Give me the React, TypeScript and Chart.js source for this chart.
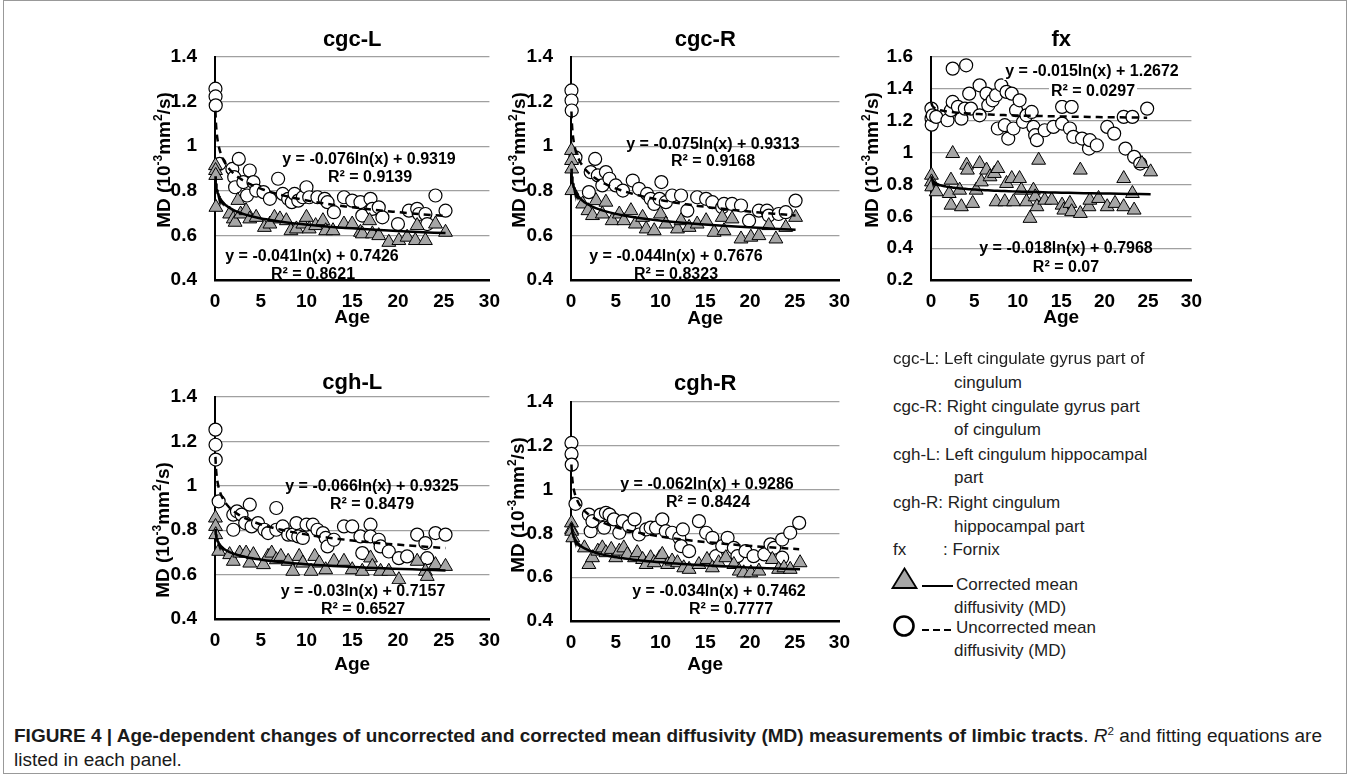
import React, { useEffect, useLayoutEffect, useRef } from "react";
import { Chart, registerables } from "chart.js";
Chart.register(...registerables);

const FONT = '"Liberation Sans", Arial, Helvetica, sans-serif';

type Pt = [number, number];

// ---------------- data (age in years, MD in 10^-3 mm^2/s) ----------------
const cgcLUncorrected: Pt[] = [[0.05,1.258],[0.06,1.223],[0.08,1.183],[0.5,0.921],[1.9,0.898],[2.1,0.861],[2.2,0.816],[2.6,0.943],[3.1,0.839],[3.5,0.779],[3.8,0.891],[4.2,0.839],[4.5,0.801],[5.3,0.794],[6.0,0.764],[6.9,0.854],[7.4,0.786],[8.0,0.764],[8.4,0.749],[8.7,0.786],[9.1,0.756],[9.6,0.771],[10.0,0.816],[10.3,0.771],[11.2,0.771],[12.0,0.764],[12.3,0.749],[13.0,0.704],[14.1,0.771],[15.0,0.756],[15.9,0.749],[16.1,0.689],[17.0,0.764],[17.2,0.719],[17.9,0.726],[18.3,0.681],[20.0,0.651],[21.2,0.711],[22.1,0.719],[22.3,0.696],[23.0,0.696],[23.2,0.651],[24.1,0.779],[25.2,0.711]];
const cgcLCorrected: Pt[] = [[0.05,0.913],[0.06,0.891],[0.08,0.869],[0.1,0.726],[1.6,0.696],[2.0,0.674],[2.2,0.659],[2.5,0.757],[2.8,0.696],[3.4,0.711],[3.8,0.674],[4.5,0.681],[5.4,0.636],[6.0,0.651],[6.5,0.681],[7.1,0.674],[7.8,0.666],[8.3,0.621],[8.9,0.629],[9.6,0.651],[10.0,0.681],[10.3,0.629],[11.0,0.644],[11.8,0.666],[12.1,0.621],[12.9,0.621],[14.1,0.651],[15.0,0.651],[15.9,0.614],[16.1,0.607],[16.9,0.666],[17.2,0.607],[17.9,0.599],[19.0,0.569],[20.1,0.577],[21.0,0.592],[21.9,0.577],[22.1,0.644],[23.0,0.577],[24.1,0.651],[25.2,0.614]];
const cgcLFitUncorrected = [-0.076, 0.9319];
const cgcLFitCorrected = [-0.041, 0.7426];

const cgcRUncorrected: Pt[] = [[0.05,1.250],[0.06,1.205],[0.08,1.160],[0.5,0.950],[2.0,0.794],[2.2,0.884],[2.7,0.943],[3.0,0.869],[3.5,0.824],[3.9,0.884],[4.3,0.854],[5.0,0.824],[5.8,0.801],[6.9,0.846],[7.6,0.809],[8.5,0.786],[8.9,0.764],[9.3,0.741],[9.9,0.764],[10.1,0.839],[10.6,0.749],[11.3,0.779],[12.3,0.779],[13.0,0.711],[14.1,0.771],[15.1,0.764],[15.8,0.749],[16.9,0.726],[17.1,0.741],[18.0,0.741],[19.0,0.734],[19.9,0.666],[21.0,0.711],[21.9,0.711],[22.1,0.689],[23.2,0.696],[24.0,0.704],[25.1,0.756]];
const cgcRCorrected: Pt[] = [[0.05,0.981],[0.06,0.936],[0.08,0.898],[0.1,0.801],[1.3,0.741],[1.9,0.711],[2.4,0.689],[2.8,0.756],[3.5,0.696],[3.9,0.749],[4.6,0.666],[5.4,0.696],[5.9,0.666],[6.7,0.711],[7.2,0.651],[8.0,0.681],[8.4,0.629],[9.3,0.621],[10.0,0.696],[10.6,0.651],[11.9,0.629],[12.3,0.666],[13.2,0.636],[14.1,0.651],[15.1,0.666],[16.0,0.614],[16.9,0.681],[17.1,0.621],[18.0,0.674],[19.0,0.584],[20.1,0.592],[21.0,0.599],[22.1,0.644],[22.9,0.584],[24.0,0.636],[25.1,0.681]];
const cgcRFitUncorrected = [-0.075, 0.9313];
const cgcRFitCorrected = [-0.044, 0.7676];

const fxUncorrected: Pt[] = [[0.05,1.276],[0.06,1.213],[0.08,1.175],[0.2,1.234],[0.6,1.224],[1.9,1.203],[2.3,1.266],[2.5,1.318],[2.5,1.527],[3.1,1.287],[3.5,1.213],[3.9,1.276],[4.05,1.548],[4.4,1.370],[4.6,1.276],[5.6,1.422],[5.6,1.234],[6.4,1.370],[6.6,1.297],[7.1,1.328],[7.5,1.360],[7.7,1.151],[8.1,1.422],[8.5,1.172],[8.7,1.381],[8.9,1.088],[9.3,1.370],[9.5,1.151],[9.8,1.266],[10.2,1.328],[10.6,1.193],[11.0,1.234],[11.6,1.255],[11.8,1.161],[12.0,1.109],[12.2,1.078],[13.1,1.140],[14.1,1.161],[15.1,1.182],[15.1,1.287],[16.0,1.151],[16.2,1.287],[16.4,1.099],[17.4,1.088],[18.2,1.025],[18.3,1.078],[19.1,1.046],[20.3,1.161],[21.1,1.119],[22.2,1.224],[22.4,1.025],[23.2,1.224],[23.4,0.973],[24.1,0.931],[24.9,1.276]];
const fxCorrected: Pt[] = [[0.05,0.858],[0.06,0.816],[0.08,0.785],[0.6,0.754],[2.1,0.743],[2.3,0.827],[2.3,0.670],[2.5,0.994],[3.3,0.764],[3.5,0.660],[4.1,0.921],[4.2,0.890],[4.8,0.681],[5.2,0.764],[5.6,0.931],[5.8,0.816],[6.4,0.890],[6.8,0.848],[7.3,0.869],[7.5,0.691],[7.7,0.900],[8.5,0.691],[8.7,0.806],[9.3,0.837],[9.5,0.691],[10.2,0.837],[10.4,0.764],[11.0,0.691],[11.4,0.587],[11.8,0.764],[12.0,0.722],[12.2,0.660],[12.4,0.952],[13.1,0.701],[13.9,0.701],[15.1,0.670],[15.3,0.639],[16.0,0.681],[16.2,0.629],[17.2,0.890],[17.2,0.618],[18.2,0.660],[18.3,0.701],[19.3,0.712],[20.3,0.660],[21.2,0.681],[22.2,0.837],[22.2,0.660],[23.2,0.743],[23.4,0.639],[24.3,0.931],[25.3,0.879]];
const fxFitUncorrected = [-0.015, 1.2672];
const fxFitCorrected = [-0.018, 0.7968];

const cghLUncorrected: Pt[] = [[0.05,1.253],[0.06,1.185],[0.08,1.118],[0.4,0.930],[2.0,0.870],[2.0,0.802],[2.4,0.885],[2.9,0.870],[3.3,0.832],[3.8,0.915],[4.0,0.817],[4.7,0.832],[5.4,0.802],[5.8,0.787],[6.7,0.900],[6.7,0.802],[7.4,0.817],[8.0,0.780],[8.5,0.780],[8.9,0.832],[9.1,0.772],[9.6,0.765],[10.0,0.825],[10.7,0.825],[11.2,0.802],[11.8,0.787],[12.1,0.765],[12.3,0.727],[13.0,0.757],[14.1,0.817],[15.0,0.817],[15.9,0.772],[16.1,0.697],[17.0,0.825],[17.0,0.772],[17.9,0.757],[18.1,0.727],[19.0,0.704],[20.1,0.674],[21.0,0.682],[22.1,0.780],[23.0,0.742],[23.2,0.674],[24.1,0.787],[25.2,0.780]];
const cghLCorrected: Pt[] = [[0.05,0.855],[0.06,0.817],[0.08,0.780],[0.4,0.705],[1.6,0.690],[2.0,0.660],[2.7,0.697],[3.4,0.697],[3.8,0.652],[4.2,0.690],[5.3,0.645],[5.8,0.682],[6.2,0.697],[6.7,0.667],[7.2,0.682],[8.0,0.660],[8.5,0.615],[9.2,0.682],[9.6,0.652],[10.5,0.615],[10.9,0.682],[11.4,0.652],[12.1,0.622],[13.0,0.660],[14.1,0.660],[15.0,0.622],[16.1,0.615],[17.0,0.675],[17.2,0.637],[18.1,0.615],[19.0,0.615],[20.1,0.577],[22.1,0.660],[23.0,0.615],[23.2,0.592],[24.1,0.645],[25.2,0.637]];
const cghLFitUncorrected = [-0.066, 0.9325];
const cghLFitCorrected = [-0.03, 0.7157];

const cghRUncorrected: Pt[] = [[0.05,1.213],[0.06,1.163],[0.08,1.114],[0.5,0.935],[2.0,0.886],[2.2,0.810],[2.4,0.856],[3.3,0.886],[3.7,0.826],[3.9,0.894],[4.3,0.886],[4.8,0.864],[5.4,0.803],[5.8,0.856],[6.5,0.833],[7.1,0.864],[7.6,0.795],[8.4,0.818],[8.9,0.826],[9.5,0.826],[10.2,0.864],[10.6,0.810],[11.3,0.803],[12.1,0.780],[12.3,0.742],[12.5,0.818],[13.2,0.719],[14.3,0.856],[15.1,0.803],[15.8,0.780],[16.2,0.696],[16.9,0.742],[17.5,0.780],[18.2,0.734],[18.6,0.696],[19.5,0.719],[20.4,0.696],[21.6,0.704],[22.3,0.750],[22.7,0.734],[23.6,0.772],[23.6,0.689],[24.5,0.803],[25.5,0.848]];
const cghRCorrected: Pt[] = [[0.05,0.848],[0.06,0.818],[0.08,0.810],[0.2,0.780],[1.5,0.734],[2.0,0.658],[2.4,0.689],[3.0,0.719],[3.5,0.734],[3.9,0.712],[4.5,0.727],[5.0,0.689],[5.4,0.719],[5.9,0.734],[6.3,0.704],[7.1,0.689],[7.4,0.712],[8.0,0.681],[8.4,0.658],[8.9,0.689],[9.3,0.666],[9.9,0.689],[10.2,0.704],[10.8,0.658],[11.3,0.674],[11.9,0.666],[12.6,0.643],[13.2,0.636],[14.3,0.658],[15.2,0.681],[15.8,0.643],[16.5,0.666],[17.3,0.689],[18.2,0.658],[18.8,0.628],[19.3,0.620],[20.1,0.620],[21.0,0.628],[22.5,0.681],[23.2,0.636],[23.8,0.643],[24.5,0.636],[25.6,0.666]];
const cghRFitUncorrected = [-0.062, 0.9286];
const cghRFitCorrected = [-0.034, 0.7462];

const ageTicks = [0, 30, 5]; // min, max, step
const mdTicksStandard = [0.4, 1.4, 0.2];
const mdTicksFornix = [0.2, 1.6, 0.2];

const legendLines = [
  "cgc-L: Left cingulate gyrus part of", "cingulum",
  "cgc-R: Right cingulate gyrus part", "of cingulum",
  "cgh-L: Left cingulum hippocampal", "part",
  "cgh-R: Right cingulum", "hippocampal part",
];

// ---------------- panel layout ----------------
type Label = { text: string; x: number; y: number; bg: boolean };
type PanelCfg = {
  title: string;
  canvas: [number, number, number, number];
  area: [number, number, number, number];
  yTicks: number[];
  uncorrected: Pt[];
  corrected: Pt[];
  fitU: number[];
  fitC: number[];
  labels: Label[];
  titleY: number;
  ageY: number;
  yTitle: [number, number];
};

const panels: PanelCfg[] = [
  {
    title: "cgc-L", canvas: [140, 10, 370, 330], area: [215, 57, 493, 280], yTicks: mdTicksStandard,
    uncorrected: cgcLUncorrected, corrected: cgcLCorrected, fitU: cgcLFitUncorrected, fitC: cgcLFitCorrected,
    labels: [
      { text: "y = -0.076ln(x) + 0.9319", x: 369, y: 160, bg: false },
      { text: "R² = 0.9139", x: 370, y: 178, bg: false },
      { text: "y = -0.041ln(x) + 0.7426", x: 312, y: 257, bg: true },
      { text: "R² = 0.8621", x: 313, y: 275, bg: true },
    ],
    titleY: 40, ageY: 318, yTitle: [163, 160],
  },
  {
    title: "cgc-R", canvas: [495, 10, 365, 330], area: [571, 57, 840, 280], yTicks: mdTicksStandard,
    uncorrected: cgcRUncorrected, corrected: cgcRCorrected, fitU: cgcRFitUncorrected, fitC: cgcRFitCorrected,
    labels: [
      { text: "y = -0.075ln(x) + 0.9313", x: 713, y: 145, bg: false },
      { text: "R² = 0.9168", x: 713, y: 162, bg: false },
      { text: "y = -0.044ln(x) + 0.7676", x: 676, y: 257, bg: true },
      { text: "R² = 0.8323", x: 676, y: 275, bg: true },
    ],
    titleY: 40, ageY: 319, yTitle: [518, 160],
  },
  {
    title: "fx", canvas: [850, 10, 362, 330], area: [931, 57, 1192, 280], yTicks: mdTicksFornix,
    uncorrected: fxUncorrected, corrected: fxCorrected, fitU: fxFitUncorrected, fitC: fxFitCorrected,
    labels: [
      { text: "y = -0.015ln(x) + 1.2672", x: 1092, y: 72, bg: true },
      { text: "R² = 0.0297", x: 1093, y: 92, bg: true },
      { text: "y = -0.018ln(x) + 0.7968", x: 1066, y: 249, bg: false },
      { text: "R² = 0.07", x: 1066, y: 268, bg: false },
    ],
    titleY: 40, ageY: 318, yTitle: [871, 160],
  },
  {
    title: "cgh-L", canvas: [140, 355, 370, 330], area: [215, 397, 493, 619], yTicks: mdTicksStandard,
    uncorrected: cghLUncorrected, corrected: cghLCorrected, fitU: cghLFitUncorrected, fitC: cghLFitCorrected,
    labels: [
      { text: "y = -0.066ln(x) + 0.9325", x: 372, y: 487, bg: false },
      { text: "R² = 0.8479", x: 372, y: 505, bg: false },
      { text: "y = -0.03ln(x) + 0.7157", x: 363, y: 592, bg: true },
      { text: "R² = 0.6527", x: 363, y: 610, bg: true },
    ],
    titleY: 383, ageY: 665, yTitle: [162, 530],
  },
  {
    title: "cgh-R", canvas: [495, 355, 365, 330], area: [571, 402, 840, 621], yTicks: mdTicksStandard,
    uncorrected: cghRUncorrected, corrected: cghRCorrected, fitU: cghRFitUncorrected, fitC: cghRFitCorrected,
    labels: [
      { text: "y = -0.062ln(x) + 0.9286", x: 707, y: 485, bg: false },
      { text: "R² = 0.8424", x: 708, y: 503, bg: false },
      { text: "y = -0.034ln(x) + 0.7462", x: 719, y: 592, bg: true },
      { text: "R² = 0.7777", x: 731, y: 610, bg: true },
    ],
    titleY: 384, ageY: 665, yTitle: [517, 505],
  },
];

function trend(fit: number[], pts: Pt[]) {
  const xs = pts.map((p) => p[0]);
  const lo = Math.min(...xs);
  const hi = Math.max(...xs);
  const out: { x: number; y: number }[] = [];
  const n = 120;
  for (let i = 0; i <= n; i++) {
    const x = lo * Math.pow(hi / lo, i / n);
    out.push({ x, y: fit[0] * Math.log(x) + fit[1] });
  }
  return out;
}

function Panel({ cfg }: { cfg: PanelCfg }) {
  const ref = useRef<HTMLCanvasElement>(null);
  const [cx, cy, cw, ch] = cfg.canvas;
  useEffect(() => {
    const [L, T, R, B] = cfg.area;
    const decor = {
      id: "decor",
      afterDatasetsDraw(chart: any) {
        const ctx = chart.ctx as CanvasRenderingContext2D;
        const a = chart.chartArea;
        ctx.save();
        ctx.font = `bold 16px ${FONT}`;
        ctx.textAlign = "center";
        ctx.textBaseline = "middle";
        for (const lb of cfg.labels) {
          const x = lb.x - cx;
          const y = lb.y - cy;
          if (lb.bg) {
            const w = ctx.measureText(lb.text).width;
            ctx.save();
            ctx.beginPath();
            ctx.rect(a.left + 2, a.top, a.right - a.left, a.bottom - a.top - 2);
            ctx.clip();
            ctx.fillStyle = "#fff";
            ctx.fillRect(x - w / 2 - 2, y - 8, w + 4, 16);
            ctx.restore();
          }
          ctx.fillStyle = "#000";
          ctx.fillText(lb.text, x, y);
        }
        ctx.restore();
      },
      afterDraw(chart: any) {
        const ctx = chart.ctx as CanvasRenderingContext2D;
        const a = chart.chartArea;
        const mid = (a.left + a.right) / 2;
        ctx.save();
        ctx.fillStyle = "#000";
        ctx.textAlign = "center";
        ctx.textBaseline = "middle";
        ctx.font = `bold 22px ${FONT}`;
        ctx.fillText(cfg.title, mid, cfg.titleY - cy);
        ctx.font = `bold 19px ${FONT}`;
        ctx.fillText("Age", mid, cfg.ageY - cy);
        // rotated y-axis title with superscripts
        const segs: [string, boolean][] = [["MD (10", false], ["-3", true], ["mm", false], ["2", true], ["/s)", false]];
        const mainF = `bold 19px ${FONT}`;
        const supF = `bold 12px ${FONT}`;
        let total = 0;
        for (const [s, sup] of segs) {
          ctx.font = sup ? supF : mainF;
          total += ctx.measureText(s).width;
        }
        ctx.translate(cfg.yTitle[0] - cx, cfg.yTitle[1] - cy);
        ctx.rotate(-Math.PI / 2);
        ctx.textAlign = "left";
        ctx.textBaseline = "alphabetic";
        let px = -total / 2;
        for (const [s, sup] of segs) {
          ctx.font = sup ? supF : mainF;
          ctx.fillText(s, px, sup ? -1 : 7);
          px += ctx.measureText(s).width;
        }
        ctx.restore();
      },
    };
    const tickFont = { family: FONT, size: 19, weight: "bold" as const };
    const chart = new Chart(ref.current!, {
      type: "scatter",
      data: {
        datasets: [
          {
            data: trend(cfg.fitU, cfg.uncorrected), showLine: true, borderColor: "#000", borderWidth: 2.5,
            borderDash: [7, 5], pointRadius: 0, fill: false, clip: false as any,
          },
          {
            data: trend(cfg.fitC, cfg.corrected), showLine: true, borderColor: "#000", borderWidth: 2.5,
            pointRadius: 0, fill: false, clip: false as any,
          },
          {
            data: cfg.corrected.map(([x, y]) => ({ x, y })), pointStyle: "triangle", pointRadius: 8,
            backgroundColor: "#a6a6a6", borderColor: "#000", borderWidth: 1, clip: false as any,
          },
          {
            data: cfg.uncorrected.map(([x, y]) => ({ x, y })), pointStyle: "circle", pointRadius: 6.5,
            backgroundColor: "#fff", borderColor: "#000", borderWidth: 1.2, clip: false as any,
          },
        ],
      },
      options: {
        responsive: false,
        animation: false,
        events: [],
        layout: { padding: { left: 0, top: T - cy, right: cx + cw - R, bottom: 0 } },
        plugins: { legend: { display: false }, tooltip: { enabled: false }, title: { display: false } },
        scales: {
          x: {
            type: "linear", min: ageTicks[0], max: ageTicks[1],
            afterFit: (s: any) => { s.height = cy + ch - B; },
            ticks: { stepSize: ageTicks[2], font: tickFont, color: "#000", padding: 10, maxRotation: 0, autoSkip: false },
            grid: { display: false, drawTicks: false },
            border: { display: true, color: "#000", width: 2.5 },
          },
          y: {
            type: "linear", min: cfg.yTicks[0], max: cfg.yTicks[1],
            afterFit: (s: any) => { s.width = L - cx; },
            ticks: {
              stepSize: cfg.yTicks[2], font: tickFont, color: "#000", padding: 18, autoSkip: false,
              callback: (v: any) => String(Math.round(Number(v) * 10) / 10),
            },
            grid: { color: "#a0a0a0", lineWidth: 1.2, drawTicks: false },
            border: { display: true, color: "#000", width: 2 },
          },
        },
      },
      plugins: [decor],
    } as any);
    return () => chart.destroy();
  }, []);
  return (
    <canvas ref={ref} width={cw} height={ch}
      style={{ position: "absolute", left: cx, top: cy, width: cw, height: ch }} />
  );
}

function Caption() {
  const outer = useRef<HTMLDivElement>(null);
  const line1 = useRef<HTMLSpanElement>(null);
  useLayoutEffect(() => {
    const o = outer.current;
    const l = line1.current;
    if (!o || !l) return;
    const w = l.getBoundingClientRect().width;
    if (w > 0) o.style.transform = `scaleX(${1308 / w})`;
  }, []);
  return (
    <div ref={outer} style={{ position: "absolute", left: 14, top: 724, fontFamily: FONT, fontSize: 18, color: "#1a1a1a", lineHeight: "24px", transformOrigin: "0 0", whiteSpace: "nowrap" }}>
      <div>
        <span ref={line1}>
          <span style={{ fontWeight: "bold" }}>FIGURE 4 | Age-dependent changes of uncorrected and corrected mean diffusivity (MD) measurements of limbic tracts</span>
          . <i>R</i><sup style={{ fontSize: 11, lineHeight: 0 }}>2</sup> and fitting equations are
        </span>
      </div>
      <div>listed in each panel.</div>
    </div>
  );
}

function Legend() {
  const txt = (s: string, x: number, y: number, key: string) => (
    <div key={key} style={{ position: "absolute", left: x, top: y - 12, height: 24, lineHeight: "24px", whiteSpace: "nowrap" }}>{s}</div>
  );
  const rows: [number, number][] = [[893, 359], [954, 383], [893, 407], [954, 430], [893, 455], [954, 478], [893, 503], [954, 527]];
  return (
    <div style={{ position: "absolute", left: 0, top: 0, fontFamily: FONT, fontSize: 17, color: "#222" }}>
      {legendLines.map((s, i) => txt(s, rows[i][0], rows[i][1], "l" + i))}
      {txt("fx", 893, 550, "fx")}
      {txt(": Fornix", 943, 550, "fx2")}
      {txt("Corrected mean", 956, 585, "c1")}
      {txt("diffusivity (MD)", 954, 608, "c2")}
      {txt("Uncorrected mean", 956, 628, "u1")}
      {txt("diffusivity (MD)", 954, 651, "u2")}
      <svg width={80} height={90} style={{ position: "absolute", left: 885, top: 560 }}>
        <polygon points="7.5,28 31.5,28 19.5,8.5" fill="#a6a6a6" stroke="#000" strokeWidth={1.8} />
        <line x1={37} y1={26} x2={68} y2={26} stroke="#000" strokeWidth={2} />
        <circle cx={19} cy={66} r={9.5} fill="#fff" stroke="#000" strokeWidth={2.6} />
        <line x1={37} y1={70} x2={68} y2={70} stroke="#000" strokeWidth={2.2} strokeDasharray="7,4" />
      </svg>
    </div>
  );
}

export default function App() {
  return (
    <div style={{ position: "absolute", left: 0, top: 0, width: 1352, height: 778, background: "#fff", overflow: "hidden" }}>
      <div style={{ position: "absolute", left: 3, top: 0, width: 1344, height: 774, border: "1px solid #999", boxSizing: "border-box" }} />
      {panels.map((p) => <Panel key={p.title} cfg={p} />)}
      <Legend />
      <Caption />
    </div>
  );
}
